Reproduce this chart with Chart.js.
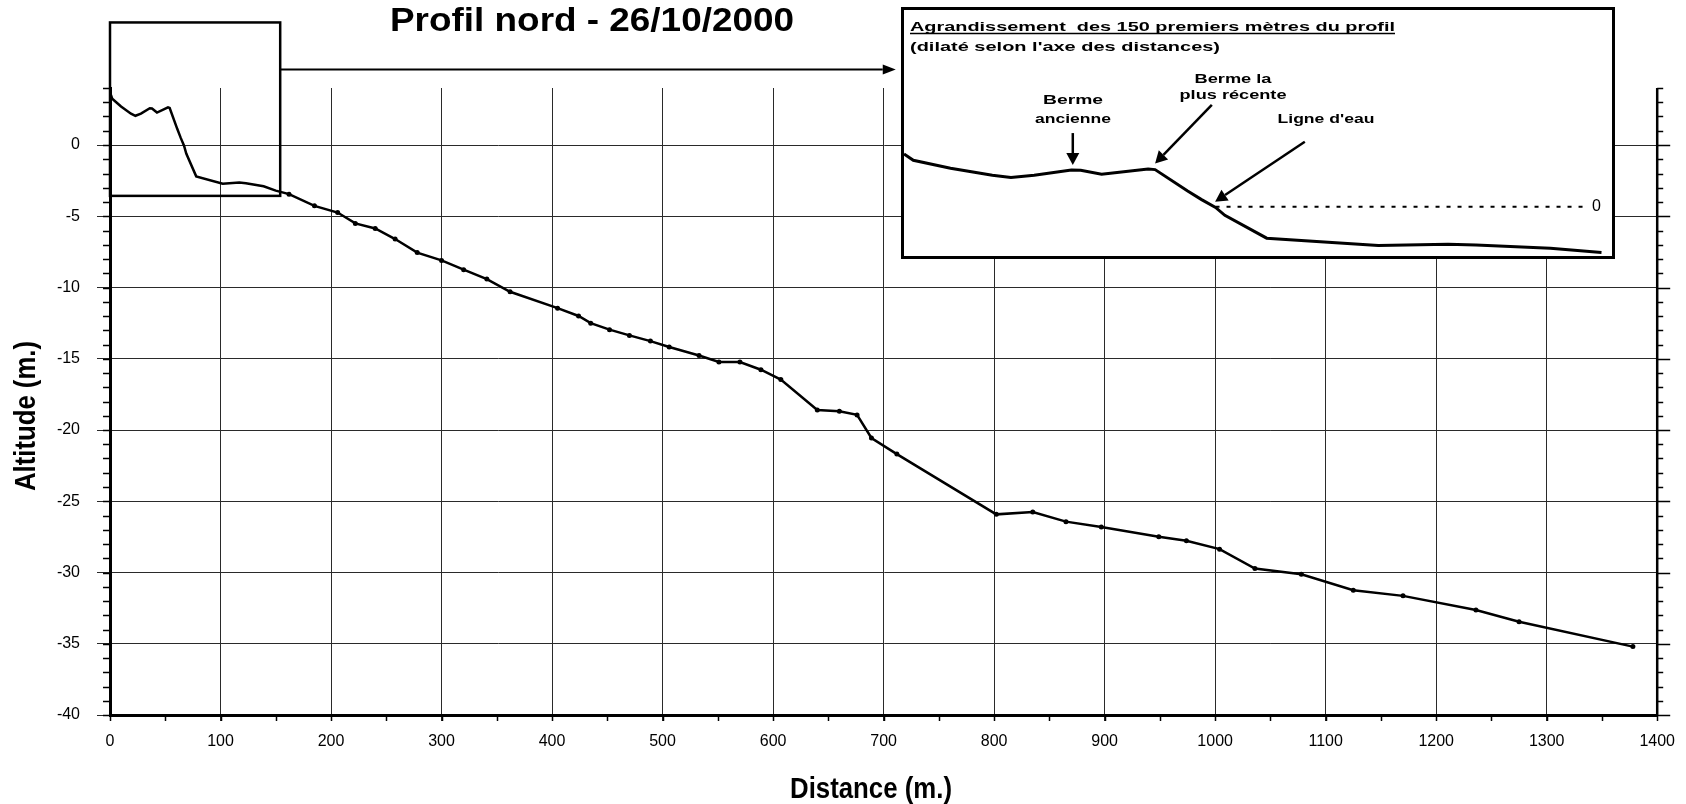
<!DOCTYPE html>
<html>
<head>
<meta charset="utf-8">
<script src="https://cdn.jsdelivr.net/npm/chart.js@4/dist/chart.umd.min.js"></script>
<style>
    html, body { margin: 0; padding: 0; background: #fff; }
    #wrap { position: relative; width: 1686px; height: 804px; }
    #main { position: absolute; left: 0; top: 0; }
    #insetBox {
        position: absolute; left: 901px; top: 7px; width: 714px; height: 252px;
        box-sizing: border-box; border: 3px solid #000; background: #fff;
    }
    #inset { display: block; }
</style>
</head>
<body>
<div id="wrap">
    <canvas id="main" width="1686" height="804"></canvas>
    <div id="insetBox"><canvas id="inset" width="708" height="246"></canvas></div>
</div>
<script>
// Profile data: distance (m) and altitude (m)
const distances = [0, 2, 10, 19, 23, 28, 36, 38, 42.5, 52.5, 54, 61, 64, 67, 69, 78, 102, 117, 123, 139,
    150, 162, 185, 206, 222, 240, 258, 278, 300, 320, 341, 362, 405, 424, 435, 452, 470, 489, 506, 533,
    551, 570, 589, 607, 640, 660, 676, 689, 712, 802, 835, 865, 897, 949, 974, 1004, 1036, 1078, 1125, 1170,
    1236, 1275, 1378];
const altitudes = [3.7, 3.25, 2.7, 2.2, 2.05, 2.2, 2.58, 2.56, 2.28, 2.64, 2.6, 1.1, 0.5, -0.05, -0.6, -2.2, -2.72, -2.63, -2.68, -2.9,
    -3.2, -3.45, -4.27, -4.74, -5.5, -5.86, -6.6, -7.55, -8.1, -8.75, -9.41, -10.3, -11.45, -12.0, -12.5, -12.96, -13.36, -13.76, -14.18, -14.77,
    -15.23, -15.23, -15.77, -16.46, -18.59, -18.69, -18.94, -20.56, -21.69, -25.92, -25.75, -26.43, -26.8, -27.49, -27.77, -28.36, -29.72, -30.12, -31.24, -31.64,
    -32.63, -33.45, -35.2];

const xTicks = [0, 100, 200, 300, 400, 500, 600, 700, 800, 900, 1000, 1100, 1200, 1300, 1400];
const yTicks = [-40, -35, -30, -25, -20, -15, -10, -5, 0];

// water line in the inset (altitude 0)
const waterLineDist = [67, 146];
const waterLineAlt = [0, 0];

// first 150 m, shown dilated in the inset
const ZOOM_LIMIT = 150;

const FONT = '"Liberation Sans", Arial, Helvetica, sans-serif';

const profilePoints = distances.map((d, i) => ({ x: d, y: altitudes[i] }));

// draws text squeezed/stretched horizontally to a given width
function fitText(ctx, text, x, y, font, width, align, rotate) {
    ctx.save();
    ctx.font = font;
    const w = ctx.measureText(text).width;
    ctx.translate(x, y);
    if (rotate) {
        ctx.rotate(-Math.PI / 2);
    }
    ctx.scale(width / w, 1);
    ctx.textAlign = align || 'left';
    ctx.textBaseline = 'alphabetic';
    ctx.fillStyle = '#000';
    ctx.fillText(text, 0, 0);
    ctx.restore();
}

function drawArrow(ctx, x0, y0, x1, y1, lw, headLen, headHalf) {
    const a = Math.atan2(y1 - y0, x1 - x0);
    const bx = x1 - headLen * Math.cos(a);
    const by = y1 - headLen * Math.sin(a);
    ctx.save();
    ctx.strokeStyle = '#000';
    ctx.fillStyle = '#000';
    ctx.lineWidth = lw;
    ctx.beginPath();
    ctx.moveTo(x0, y0);
    ctx.lineTo(bx, by);
    ctx.stroke();
    ctx.beginPath();
    ctx.moveTo(x1, y1);
    ctx.lineTo(bx + headHalf * Math.sin(a), by - headHalf * Math.cos(a));
    ctx.lineTo(bx - headHalf * Math.sin(a), by + headHalf * Math.cos(a));
    ctx.closePath();
    ctx.fill();
    ctx.restore();
}

const mainDecor = {
    id: 'mainDecor',
    afterDraw(chart) {
        const ctx = chart.ctx;
        const xs = chart.scales.x;
        const ys = chart.scales.y;
        const left = xs.getPixelForValue(0);
        const right = xs.getPixelForValue(1400);
        const top = ys.getPixelForValue(4);
        const bottom = ys.getPixelForValue(-40);

        ctx.save();
        ctx.strokeStyle = '#000';

        // right axis
        ctx.lineWidth = 2.5;
        ctx.beginPath();
        ctx.moveTo(right, top);
        ctx.lineTo(right, bottom);
        ctx.stroke();

        // minor ticks, every metre on both vertical axes
        ctx.lineWidth = 1.5;
        for (let v = -40; v <= 4; v++) {
            const py = Math.round(ys.getPixelForValue(v)) + 0.5;
            ctx.beginPath();
            ctx.moveTo(left - 7, py);
            ctx.lineTo(left, py);
            ctx.moveTo(right, py);
            ctx.lineTo(right + (v % 5 === 0 ? 13 : 6), py);
            ctx.stroke();
        }
        // minor ticks every 50 m under the distance axis
        for (let d = 0; d <= 1400; d += 50) {
            const px = Math.round(xs.getPixelForValue(d)) + 0.5;
            ctx.beginPath();
            ctx.moveTo(px, bottom);
            ctx.lineTo(px, bottom + 6);
            ctx.stroke();
        }

        // frame round the first 150 m
        ctx.lineWidth = 2.5;
        const bx0 = xs.getPixelForValue(0);
        const bx1 = xs.getPixelForValue(154);
        const by0 = ys.getPixelForValue(8.6);
        const by1 = ys.getPixelForValue(-3.57);
        ctx.strokeRect(bx0, by0, bx1 - bx0, by1 - by0);
        ctx.restore();

        // arrow towards the inset
        const ay = ys.getPixelForValue(5.3);
        drawArrow(ctx, bx1, ay, xs.getPixelForValue(711), ay, 2, 13, 5);

        // titles
        fitText(ctx, 'Profil nord - 26/10/2000', 592, 31, 'bold 33px ' + FONT, 404, 'center');
        fitText(ctx, 'Distance (m.)', 871, 798, 'bold 29px ' + FONT, 162, 'center');
        fitText(ctx, 'Altitude (m.)', 35, 416, 'bold 29px ' + FONT, 150, 'center', true);
    }
};

new Chart(document.getElementById('main'), {
    type: 'line',
    data: {
        datasets: [{
            data: profilePoints,
            borderColor: '#000',
            borderWidth: 2.5,
            backgroundColor: '#000',
            pointRadius: (c) => (c.raw && c.raw.x > ZOOM_LIMIT ? 2.5 : 0),
            pointBorderWidth: 0,
            tension: 0,
        }],
    },
    options: {
        responsive: false,
        animation: false,
        events: [],
        layout: { padding: { top: 88, right: 20, left: 0, bottom: 0 } },
        plugins: { legend: { display: false }, title: { display: false }, tooltip: { enabled: false } },
        scales: {
            x: {
                type: 'linear',
                min: 0,
                max: 1400,
                afterBuildTicks: (s) => { s.ticks = xTicks.map((v) => ({ value: v })); },
                afterFit: (s) => { s.height = 89; },
                ticks: {
                    color: '#000', font: { family: FONT, size: 16 }, padding: 11, maxRotation: 0, autoSkip: false,
                    callback: (v) => String(v),
                },
                grid: { color: '#2a2a2a', lineWidth: 1, tickLength: 6 },
                border: { color: '#000', width: 3 },
            },
            y: {
                type: 'linear',
                min: -40,
                max: 4,
                afterBuildTicks: (s) => { s.ticks = yTicks.map((v) => ({ value: v })); },
                afterFit: (s) => { s.width = 110; },
                ticks: { color: '#000', font: { family: FONT, size: 16 }, padding: 17, callback: (v) => String(v) },
                grid: { color: '#2a2a2a', lineWidth: 1, tickLength: 13 },
                border: { color: '#000', width: 3 },
            },
        },
    },
    plugins: [mainDecor],
});

// ---- inset: first 150 m, dilated along distance ----
const TXT = 'bold 13.5px ' + FONT;

const insetDecor = {
    id: 'insetDecor',
    afterDraw(chart) {
        const ctx = chart.ctx;
        const xs = chart.scales.x;
        const ys = chart.scales.y;
        const px = (v) => xs.getPixelForValue(v);
        const py = (v) => ys.getPixelForValue(v);

        fitText(ctx, 'Agrandissement  des 150 premiers mètres du profil', 6, 21, TXT, 485, 'left');
        ctx.save();
        ctx.strokeStyle = '#000';
        ctx.lineWidth = 1.5;
        ctx.beginPath();
        ctx.moveTo(6, 23.5);
        ctx.lineTo(491, 23.5);
        ctx.stroke();
        ctx.restore();
        fitText(ctx, '(dilaté selon l\'axe des distances)', 6, 41, TXT, 310, 'left');

        fitText(ctx, 'Berme', 169, 94, TXT, 60, 'center');
        fitText(ctx, 'ancienne', 169, 113, TXT, 76, 'center');
        fitText(ctx, 'Berme la', 329, 73, TXT, 77, 'center');
        fitText(ctx, 'plus récente', 329, 89, TXT, 107, 'center');
        fitText(ctx, 'Ligne d\'eau', 422, 113, TXT, 97, 'center');

        ctx.save();
        ctx.font = '16px ' + FONT;
        ctx.fillStyle = '#000';
        ctx.textBaseline = 'middle';
        ctx.fillText('0', 688, py(0));
        ctx.restore();

        drawArrow(ctx, px(36.3), py(5.16), px(36.3), py(2.92), 2.5, 12, 6.5);
        drawArrow(ctx, px(66.2), py(7.13), px(54), py(3.03), 2.5, 12, 6.5);
        drawArrow(ctx, px(86.2), py(4.55), px(66.9), py(0.35), 2.5, 12, 6.5);
    }
};

new Chart(document.getElementById('inset'), {
    type: 'line',
    data: {
        datasets: [{
            data: profilePoints.filter((p) => p.x <= ZOOM_LIMIT),
            borderColor: '#000',
            borderWidth: 3,
            pointRadius: 0,
            tension: 0,
        }, {
            data: waterLineDist.map((d, i) => ({ x: d, y: waterLineAlt[i] })),
            borderColor: '#000',
            borderWidth: 2,
            borderDash: [4, 7],
            pointRadius: 0,
        }],
    },
    options: {
        responsive: false,
        animation: false,
        events: [],
        layout: { padding: 0 },
        plugins: { legend: { display: false }, tooltip: { enabled: false } },
        scales: {
            x: { type: 'linear', min: 0, max: 152.26, display: false },
            y: { type: 'linear', min: -3.45, max: 13.78, display: false },
        },
    },
    plugins: [insetDecor],
});
</script>
</body>
</html>
